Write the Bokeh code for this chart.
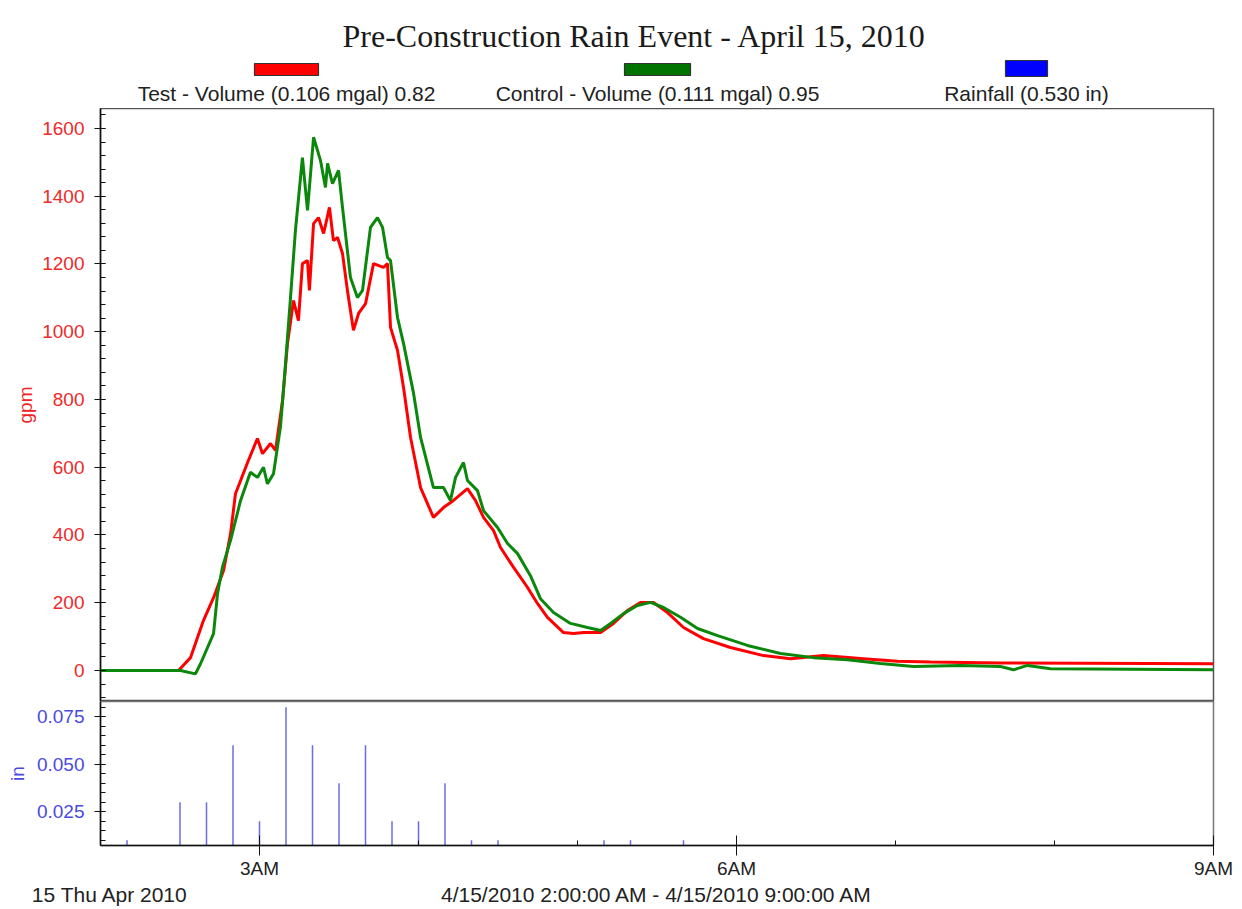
from bokeh.plotting import figure
from bokeh.models import Range1d, FixedTicker, SingleIntervalTicker, NumeralTickFormatter, LinearAxis
from bokeh.layouts import column
from bokeh.embed import file_html
from bokeh.resources import INLINE
from bokeh.core.properties import value

# ---------------- data ----------------
title_text = "Pre-Construction Rain Event - April 15, 2010"
series_names = ["Test - Volume (0.106 mgal) 0.82",
                "Control - Volume (0.111 mgal) 0.95",
                "Rainfall (0.530 in)"]

# time in decimal hours (2.0 = 2:00 AM)
test_hours = [2.000, 2.491, 2.566, 2.648, 2.711, 2.774, 2.818, 2.849, 2.925, 2.987,
              3.019, 3.069, 3.101, 3.145, 3.176, 3.214, 3.245, 3.270, 3.302, 3.314,
              3.340, 3.371, 3.403, 3.440, 3.465, 3.491, 3.522, 3.553, 3.591, 3.623,
              3.667, 3.717, 3.780, 3.805, 3.824, 3.868, 3.906, 3.950, 4.013, 4.094,
              4.157, 4.220, 4.308, 4.358, 4.409, 4.472, 4.516, 4.597, 4.686, 4.748,
              4.811, 4.912, 4.975, 5.038, 5.145, 5.226, 5.314, 5.396, 5.478, 5.566,
              5.667, 5.792, 5.962, 6.170, 6.340, 6.547, 6.799, 7.013, 7.220, 7.660,
              9.000]
test_gpm = [0, 0, 38, 148, 215, 295, 404, 522, 614, 685,
            640, 670, 650, 797, 965, 1092, 1033, 1201, 1210, 1122,
            1319, 1337, 1290, 1367, 1269, 1278, 1231, 1122, 1004, 1054,
            1083, 1201, 1190, 1201, 1013, 945, 835, 688, 540, 452,
            481, 502, 537, 502, 452, 413, 363, 305, 245, 198,
            157, 112, 109, 112, 112, 139, 177, 201, 201, 171,
            127, 94, 68, 44, 35, 44, 35, 27, 25, 22,
            20]

control_hours = [2.000, 2.503, 2.597, 2.629, 2.711, 2.736, 2.767, 2.818, 2.881, 2.943,
                 2.987, 3.025, 3.050, 3.088, 3.132, 3.157, 3.195, 3.226, 3.270, 3.302,
                 3.340, 3.384, 3.415, 3.428, 3.459, 3.497, 3.522, 3.572, 3.616, 3.648,
                 3.698, 3.742, 3.774, 3.805, 3.824, 3.868, 3.906, 3.969, 4.013, 4.094,
                 4.157, 4.201, 4.233, 4.283, 4.308, 4.371, 4.409, 4.497, 4.560, 4.623,
                 4.704, 4.767, 4.849, 4.956, 5.063, 5.145, 5.208, 5.289, 5.377, 5.459,
                 5.541, 5.648, 5.755, 5.881, 6.069, 6.277, 6.484, 6.698, 6.906, 7.113,
                 7.409, 7.660, 7.742, 7.830, 7.975, 9.000]
control_gpm = [0, 0, -10, 20, 109, 227, 305, 384, 502, 585,
               570, 600, 551, 581, 720, 865, 1101, 1299, 1514, 1358,
               1574, 1505, 1426, 1497, 1437, 1476, 1367, 1160, 1101, 1122,
               1308, 1337, 1308, 1219, 1210, 1042, 965, 818, 688, 540,
               540, 502, 570, 614, 561, 531, 472, 422, 375, 345,
               280, 212, 171, 139, 127, 118, 139, 168, 192, 201,
               186, 157, 124, 103, 74, 50, 38, 32, 21, 12,
               15, 12, 2, 15, 5, 2]

rain_times = ["2:10", "2:30", "2:40", "2:50", "3:00", "3:10", "3:20", "3:30", "3:40",
              "3:50", "4:00", "4:10", "4:20", "4:30", "5:10", "5:20", "5:40"]
rain_in = [0.010, 0.030, 0.030, 0.060, 0.020, 0.080, 0.060, 0.040, 0.060,
           0.020, 0.020, 0.040, 0.010, 0.010, 0.010, 0.010, 0.010]

x_tick_hours = [3, 6, 9]
x_tick_labels = ["3AM", "6AM", "9AM"]
x_minor_hours = [4, 5, 7, 8]
caption_hours = [2.06, 5.5]          # where the two captions are centred
caption_texts = ["15 Thu Apr 2010", "4/15/2010 2:00:00 AM - 4/15/2010 9:00:00 AM"]

rain_hours = [int(t.split(":")[0]) + int(t.split(":")[1]) / 60 for t in rain_times]

# ---------------- styling ----------------
SANS = "Liberation Sans"
SERIF = "Liberation Serif"
RED = "#ff0000"
GREEN = "#0b870b"
BLUE = "#0000ff"
W = 1234
L, R = 100, 21


def bare(fig):
    fig.grid.visible = False
    fig.background_fill_color = "white"
    fig.border_fill_color = "white"
    return fig


# header (title + legend); coordinates are page pixels
head = figure(width=W, height=108, title=None, toolbar_location=None, output_backend="svg",
              x_range=Range1d(100, 1213), y_range=Range1d(108, 0),
              min_border_left=L, min_border_right=R, min_border_top=0, min_border_bottom=0,
              x_axis_location=None, y_axis_location=None, outline_line_color=None)
bare(head)
head.text(x=[634], y=[35], text=[title_text], text_font=value(SERIF), text_font_size="32px",
          text_color="#1a1a1a", text_align="center", text_baseline="middle")
legend_cx = [286, 657, 1026]
legend_w = [64, 66, 42]
legend_h = [12, 12, 16]
legend_cy = [69, 69, 68]
head.rect(x=legend_cx, y=legend_cy, width=legend_w, height=legend_h,
          fill_color=[RED, "#007300", BLUE], line_color="#333333", line_width=1.2)
head.text(x=legend_cx, y=[93, 93, 93], text=series_names, text_font=value(SANS),
          text_font_size="21px", text_color="#222222", text_align="center",
          text_baseline="middle")

# main flow panel
xr = Range1d(2, 9)
p = figure(width=W, height=593, title=None, toolbar_location=None, output_backend="svg",
           x_range=xr, y_range=Range1d(-91.5, 1659),
           min_border_left=L, min_border_right=R, min_border_top=0, min_border_bottom=0,
           x_axis_location=None)
bare(p)
p.outline_line_color = "#555555"
p.outline_line_width = 1.5
p.line(test_hours, test_gpm, line_color=RED, line_width=3)
p.line(control_hours, control_gpm, line_color=GREEN, line_width=3)
ya = p.yaxis[0]
ya.ticker = SingleIntervalTicker(interval=200, num_minor_ticks=5)
ya.axis_label = "gpm"
ya.axis_label_text_font = SANS
ya.axis_label_text_font_style = "normal"
ya.axis_label_text_font_size = "19px"
ya.axis_label_text_color = "#ee2222"
ya.axis_label_standoff = 3
ya.major_label_text_font = SANS
ya.major_label_text_font_size = "19px"
ya.major_label_text_color = "#ee2a2a"
ya.major_label_standoff = 10
ya.axis_line_color = "#111111"
ya.axis_line_width = 1.5
ya.major_tick_line_color = "#111111"
ya.minor_tick_line_color = "#111111"
ya.major_tick_out = 6
ya.major_tick_in = 5
ya.minor_tick_out = 0
ya.minor_tick_in = 5

# rain panel
r = figure(width=W, height=207, title=None, toolbar_location=None, output_backend="svg",
           x_range=xr, y_range=Range1d(0.0072, 0.0830),
           min_border_left=L, min_border_right=R, min_border_top=0, min_border_bottom=60)
bare(r)
r.outline_line_color = "#777777"
r.outline_line_width = 1.5
r.segment(x0=rain_hours, y0=[0] * len(rain_hours), x1=rain_hours, y1=rain_in,
          line_color="#2e2ed8", line_width=1.5, line_alpha=0.7)
ry = r.yaxis[0]
ry.ticker = SingleIntervalTicker(interval=0.025, num_minor_ticks=5)
ry.formatter = NumeralTickFormatter(format="0.000")
ry.axis_label = "in"
ry.axis_label_text_font = SANS
ry.axis_label_text_font_style = "normal"
ry.axis_label_text_font_size = "19px"
ry.axis_label_text_color = "#4a4ae0"
ry.axis_label_standoff = 6
ry.major_label_text_font = SANS
ry.major_label_text_font_size = "19px"
ry.major_label_text_color = "#4a4ae0"
ry.major_label_standoff = 10
ry.axis_line_color = "#111111"
ry.axis_line_width = 1.5
ry.major_tick_line_color = "#111111"
ry.minor_tick_line_color = "#111111"
ry.major_tick_out = 6
ry.major_tick_in = 5
ry.minor_tick_out = 0
ry.minor_tick_in = 5

rx = r.xaxis[0]
rx.ticker = FixedTicker(ticks=x_tick_hours, minor_ticks=x_minor_hours)
rx.major_label_overrides = {h: lab for h, lab in zip(x_tick_hours, x_tick_labels)}
rx.major_label_text_font = SANS
rx.major_label_text_font_size = "19px"
rx.major_label_text_color = "#222222"
rx.major_label_standoff = 2
rx.axis_line_color = "#111111"
rx.axis_line_width = 1.5
rx.major_tick_line_color = "#111111"
rx.minor_tick_line_color = "#111111"
rx.major_tick_out = 10
rx.major_tick_in = 10
rx.minor_tick_out = 0
rx.minor_tick_in = 5

# second, invisible axis row carrying the two captions
cap = LinearAxis(ticker=FixedTicker(ticks=caption_hours, minor_ticks=[]),
                 major_label_overrides={h: t for h, t in zip(caption_hours, caption_texts)},
                 axis_line_color=None, major_tick_line_color=None, minor_tick_line_color=None,
                 major_tick_out=0, major_tick_in=0, major_label_standoff=1,
                 major_label_text_font=SANS, major_label_text_font_size="21px",
                 major_label_text_color="#222222")
r.add_layout(cap, "below")

layout = column(head, p, r, spacing=0)
open("out.html", "w").write(file_html(layout, INLINE))
